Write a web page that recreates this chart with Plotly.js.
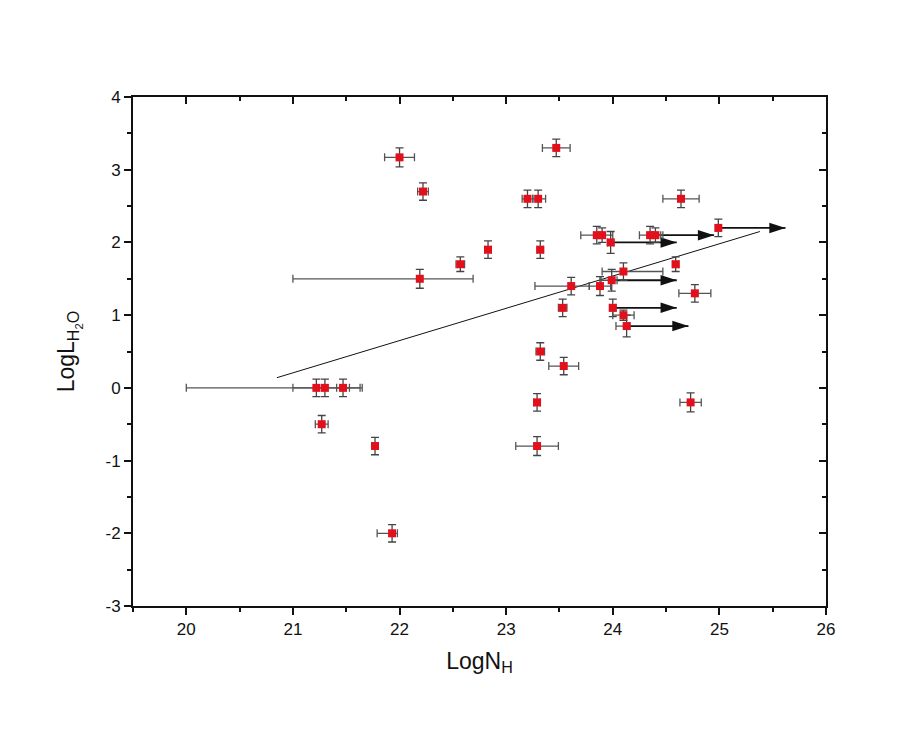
<!DOCTYPE html>
<html>
<head>
<meta charset="utf-8">
<script src="https://cdn.plot.ly/plotly-3.0.1.min.js"></script>
<style>html,body{margin:0;padding:0;background:#fff}#chart{width:921px;height:738px}</style>
</head>
<body>
<div id="chart"></div>
<script>
// Data points: LogN_H (x), LogL_H2O (y), error bars
const logNH = [22.00, 22.22, 23.47, 23.20, 23.30, 24.64, 24.99, 23.85, 23.90, 24.35, 24.40, 23.98, 22.57, 22.83, 23.32, 22.19, 24.59, 24.10, 23.99, 23.61, 23.88, 23.53, 24.00, 24.10, 24.13, 24.77, 23.32, 23.54, 23.29, 24.73, 23.29, 21.22, 21.30, 21.47, 21.27, 21.77, 21.93];
const logLH2O = [3.17, 2.70, 3.30, 2.60, 2.60, 2.60, 2.20, 2.10, 2.10, 2.10, 2.10, 2.00, 1.70, 1.90, 1.90, 1.50, 1.70, 1.60, 1.48, 1.40, 1.40, 1.10, 1.10, 1.00, 0.85, 1.30, 0.50, 0.30, -0.20, -0.20, -0.80, 0.00, 0.00, 0.00, -0.50, -0.80, -2.00];
const xErrMinus = [0.14, 0.05, 0.13, 0.05, 0.05, 0.17, 0.02, 0.15, 0.05, 0.10, 0.05, 0.03, 0.04, 0.03, 0.03, 1.19, 0.03, 0.20, 0.10, 0.34, 0.10, 0.04, 0.03, 0.10, 0.10, 0.15, 0.04, 0.14, 0.03, 0.10, 0.20, 1.22, 0.30, 0.06, 0.06, 0.03, 0.14];
const xErrPlus  = [0.14, 0.05, 0.13, 0.05, 0.07, 0.17, 0.02, 0.05, 0.10, 0.12, 0.05, 0.03, 0.04, 0.03, 0.03, 0.50, 0.03, 0.37, 0.05, 0.17, 0.10, 0.04, 0.03, 0.10, 0.03, 0.15, 0.04, 0.14, 0.03, 0.10, 0.20, 0.43, 0.33, 0.06, 0.06, 0.03, 0.05];
const yErr = [0.13, 0.12, 0.12, 0.12, 0.12, 0.12, 0.12, 0.12, 0.10, 0.12, 0.10, 0.15, 0.10, 0.12, 0.12, 0.13, 0.10, 0.12, 0.15, 0.12, 0.13, 0.12, 0.12, 0.07, 0.15, 0.12, 0.12, 0.12, 0.12, 0.13, 0.13, 0.12, 0.12, 0.12, 0.12, 0.12, 0.12];

// Lower limits (arrows): start x, y, arrow end x
const limFromX = [24.99, 24.40, 23.98, 23.99, 24.00, 24.13];
const limY     = [2.20, 2.10, 2.00, 1.48, 1.10, 0.85];
const limToX   = [25.62, 24.95, 24.60, 24.60, 24.60, 24.71];

// Fitted line
const fitX = [20.85, 25.38];
const fitY = [0.14, 2.15];

// Axis ticks
const xTicks = [20, 21, 22, 23, 24, 25, 26];
const yTicks = [-3, -2, -1, 0, 1, 2, 3, 4];

const FONT = '"Liberation Sans Narrow", "Liberation Sans", Arial, sans-serif';

// arrow shafts built from limit arrays (null-separated segments)
const shaftX = [], shaftY = [];
limFromX.forEach((fx, i) => { shaftX.push(fx, limToX[i], null); shaftY.push(limY[i], limY[i], null); });

const traces = [
  {
    x: fitX, y: fitY, mode: 'lines', type: 'scatter',
    line: {color: '#111', width: 1}, hoverinfo: 'skip', showlegend: false
  },
  {
    x: shaftX, y: shaftY, mode: 'lines', type: 'scatter',
    line: {color: '#111', width: 1.8}, hoverinfo: 'skip', showlegend: false
  },
  {
    x: limToX, y: limY, mode: 'markers', type: 'scatter',
    marker: {symbol: 'arrow', angle: 90, size: 17, color: '#111', line: {width: 0}},
    hoverinfo: 'skip', showlegend: false
  },
  {
    x: logNH, y: logLH2O, mode: 'markers', type: 'scatter', showlegend: false,
    marker: {symbol: 'square', size: 8, color: '#e3101c', line: {width: 0}},
    error_x: {type: 'data', symmetric: false, array: xErrPlus, arrayminus: xErrMinus,
              color: '#555', thickness: 1.3, width: 4},
    error_y: {type: 'data', array: yErr, color: '#444', thickness: 1.3, width: 4}
  },
  {
    x: [19.5, 26], y: [-3, 4], xaxis: 'x2', yaxis: 'y2', mode: 'markers',
    marker: {opacity: 0}, hoverinfo: 'skip', showlegend: false
  }
];

const axisCommon = {
  showgrid: false, zeroline: false, showline: true, linecolor: '#111', linewidth: 2,
  ticks: 'outside', ticklen: 7, tickwidth: 2, tickcolor: '#111',
  tickfont: {family: FONT, size: 17, color: '#111'}
};

const layout = {
  width: 921, height: 738,
  margin: {l: 133, r: 95, t: 97, b: 132},
  paper_bgcolor: '#fff', plot_bgcolor: '#fff',
  showlegend: false,
  xaxis: Object.assign({}, axisCommon, {
    range: [19.5, 26], tickvals: xTicks, ticktext: xTicks.map(String),
    minor: {dtick: 0.5, tick0: 0, ticks: 'outside', ticklen: 4, tickwidth: 2, tickcolor: '#111'},
    title: {text: 'LogN<sub>H</sub>', font: {family: FONT, size: 23, color: '#111'}, standoff: 14}
  }),
  yaxis: Object.assign({}, axisCommon, {
    range: [-3, 4], tickvals: yTicks, ticktext: yTicks.map(String),
    minor: {dtick: 0.5, tick0: 0, ticks: 'outside', ticklen: 4, tickwidth: 2, tickcolor: '#111'},
    title: {text: 'LogL<sub>H<sub>2</sub>O</sub>', font: {family: FONT, size: 23, color: '#111'}, standoff: 24}
  }),
  xaxis2: {
    overlaying: 'x', side: 'top', range: [19.5, 26], showgrid: false, zeroline: false,
    showline: true, linecolor: '#111', linewidth: 2, ticks: 'inside', ticklen: 7, tickwidth: 2,
    tickcolor: '#111', tickvals: xTicks, showticklabels: false,
    minor: {dtick: 0.5, tick0: 0, ticks: 'inside', ticklen: 4, tickwidth: 2, tickcolor: '#111'}
  },
  yaxis2: {
    overlaying: 'y', side: 'right', range: [-3, 4], showgrid: false, zeroline: false,
    showline: true, linecolor: '#111', linewidth: 2, ticks: 'inside', ticklen: 7, tickwidth: 2,
    tickcolor: '#111', tickvals: yTicks, showticklabels: false,
    minor: {dtick: 0.5, tick0: 0, ticks: 'inside', ticklen: 4, tickwidth: 2, tickcolor: '#111'}
  }
};

Plotly.newPlot('chart', traces, layout, {staticPlot: true, displayModeBar: false});
</script>
</body>
</html>
